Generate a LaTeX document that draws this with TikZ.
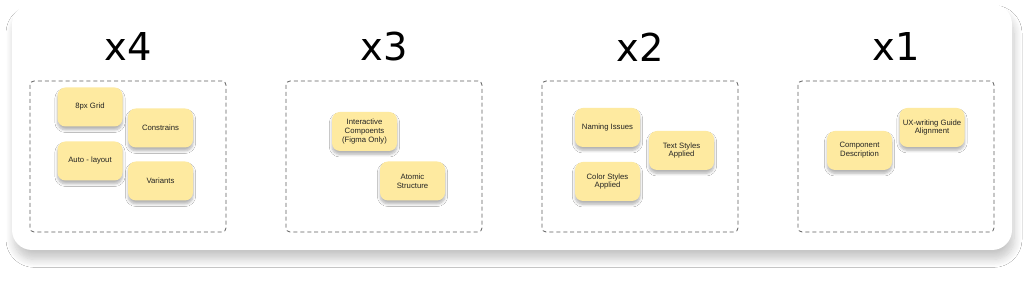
\documentclass[tikz,border=0pt]{standalone}
\usepackage{fontspec}
\setmainfont{Liberation Sans}
\newfontfamily\tierfont{DejaVu Sans}
\usetikzlibrary{shadows.blur}
\definecolor{sticky}{RGB}{254,234,160}
\definecolor{zonegray}{RGB}{95,95,95}
\definecolor{notetext}{RGB}{35,35,35}
\tikzset{card/.style={fill=white,rounded corners=15pt,
    blur shadow={shadow xshift=1.5pt,shadow yshift=-7pt,shadow blur radius=6pt,shadow blur steps=10,shadow opacity=22}},
  zone/.style={draw=zonegray,dash pattern=on 3pt off 2.2pt,rounded corners=3pt,line width=.6pt},
  tier/.style={font=\tierfont\fontsize{28.8}{30}\selectfont,text=black},
  note/.style={fill=sticky,rounded corners=6pt,minimum width=48.75pt,minimum height=29.25pt,
    align=center,inner sep=1pt,text=notetext,font=\fontsize{5.8}{6.6}\selectfont,
    blur shadow={shadow xshift=0pt,shadow yshift=-2.5pt,shadow blur radius=2pt,shadow blur steps=6,shadow opacity=30}}}

\begin{document}
\begin{tikzpicture}[x=.75pt,y=-.75pt]
\useasboundingbox (0,0) rectangle (1024,291);
\fill[white] (0,0) rectangle (1024,291);
\path[card] (12,4) rectangle (1012,250);
% dashed zones and their counts
\foreach \n/\cx in {4/128,3/384,2/640,1/896}{
  \draw[zone] (\cx-98,81) rectangle (\cx+98,232);
  \node[tier] (tier\n) at (\cx,47) {x\n};
}
% x4
\node[note] (grid) at (90,107) {8px Grid};
\node[note] (constrains) at (160.5,128) {Constrains};
\node[note] (autolayout) at (90,161) {Auto - layout};
\node[note] (variants) at (160.5,181) {Variants};
% x3
\node[note] (interactive) at (364.5,131.5) {Interactive\\Compoents\\(Figma Only)};
\node[note] (atomic) at (412.5,181) {Atomic\\Structure};
% x2
\node[note] (naming) at (607.5,127.5) {Naming Issues};
\node[note] (textstyles) at (681.5,150.5) {Text Styles\\Applied};
\node[note] (colorstyles) at (607.5,181.5) {Color Styles\\Applied};
% x1
\node[note] (uxwriting) at (932,127.5) {UX-writing Guide\\Alignment};
\node[note] (description) at (859.5,150.5) {Component\\Description};
\end{tikzpicture}
\end{document}
